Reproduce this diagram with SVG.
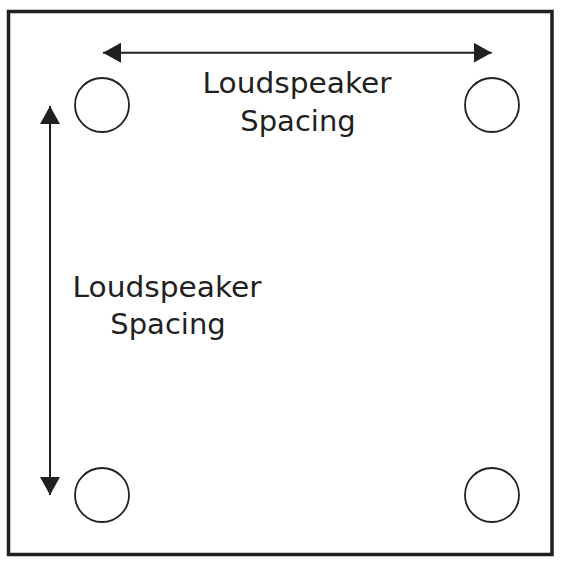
<svg xmlns="http://www.w3.org/2000/svg" width="561" height="566" viewBox="0 0 561 566">
<style>
.frame{fill:none;stroke:#231f20;stroke-width:3.5}
.spk{fill:#fff;stroke:#231f20;stroke-width:1.8}
.conn{stroke:#231f20;stroke-width:2;fill:none}
.lbl{font-family:"DejaVu Sans",sans-serif;font-size:29px;fill:#231f20;text-anchor:middle}
</style>
<defs>
<marker id="ah" viewBox="0 0 18 20" refX="18" refY="10" markerWidth="18" markerHeight="20" markerUnits="userSpaceOnUse" orient="auto-start-reverse">
<path d="M0,0 L18,10 L0,20 Z" fill="#231f20"/>
</marker>
</defs>
<rect class="frame" x="8.5" y="11.5" width="543.5" height="543"/>
<g id="spk-tl"><circle class="spk" cx="102" cy="105" r="27"/></g>
<g id="spk-tr"><circle class="spk" cx="492" cy="105" r="27"/></g>
<g id="spk-bl"><circle class="spk" cx="102" cy="495" r="27"/></g>
<g id="spk-br"><circle class="spk" cx="492" cy="495" r="27"/></g>
<g id="connectors">
<line class="conn" x1="103" y1="52.7" x2="491.7" y2="52.7" marker-start="url(#ah)" marker-end="url(#ah)"/>
<line class="conn" x1="50" y1="106" x2="50" y2="495" marker-start="url(#ah)" marker-end="url(#ah)"/>
</g>
<g id="label-h">
<text class="lbl" x="297" y="93" textLength="189" lengthAdjust="spacingAndGlyphs">Loudspeaker</text>
<text class="lbl" x="298" y="131">Spacing</text>
</g>
<g id="label-v">
<text class="lbl" x="167" y="297" textLength="189" lengthAdjust="spacingAndGlyphs">Loudspeaker</text>
<text class="lbl" x="168" y="334">Spacing</text>
</g>
</svg>
